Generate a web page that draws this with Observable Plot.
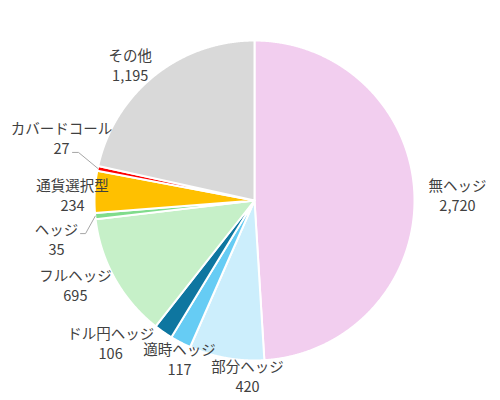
<!DOCTYPE html>
<html><head><meta charset="utf-8">
<script src="https://cdn.jsdelivr.net/npm/d3@7"></script>
<script src="https://cdn.jsdelivr.net/npm/@observablehq/plot@0.6"></script>
<style>body{margin:0;background:#fff;font-family:'Noto Sans CJK JP',sans-serif}</style>
</head><body><div id="chart"></div>
<script>
const categories = ["無ヘッジ","部分ヘッジ","適時ヘッジ","ドル円ヘッジ","フルヘッジ","ヘッジ","通貨選択型","カバードコール","その他"];
const values = [2720, 420, 117, 106, 695, 35, 234, 27, 1195];
const colors = ["#F2CEEF","#CCEEFC","#66CCF4","#0E76A0","#C6F0C8","#80DC8C","#FFC000","#FF0000","#D9D9D9"];
// label layout (radius as a fraction of the pie radius, angular nudge in degrees)
const labelRadius = [1.269, 1.095, 1.093, 1.264, 1.236, 1.26, 1.138, 1.269, 1.153];
const labelAngleOffset = [0, -7.8, -2.1, 10.6, 4.2, -5.3, -1.2, 6.5, -3.6];
// leader lines: pixel offsets from label centre for start and knee
const leaderLayout = {"カバードコール": [[11, 15], [17, 15]], "ヘッジ": [[24, -5], [29, -5]]};

const R = 160;
const arcs = d3.pie().sort(null)(values);
const piePts = [];
arcs.forEach((a, i) => {
  const c = categories[i];
  piePts.push({cat: c, color: colors[i], x: 0, y: 0});
  const n = Math.max(2, Math.ceil((a.endAngle - a.startAngle) / 0.004));
  for (let k = 0; k <= n; k++) {
    const t = a.startAngle + (a.endAngle - a.startAngle) * k / n;
    piePts.push({cat: c, color: colors[i], x: Math.sin(t), y: Math.cos(t)});
  }
  piePts.push({cat: c, color: colors[i], x: 0, y: 0});
});

const fmt = d3.format(",");
const labels = arcs.map((a, i) => {
  const mid = (a.startAngle + a.endAngle) / 2 + labelAngleOffset[i] * Math.PI / 180;
  return {
    cat: categories[i],
    text: categories[i] + "\n" + fmt(values[i]),
    x: labelRadius[i] * Math.sin(mid),
    y: labelRadius[i] * Math.cos(mid),
    mid: (a.startAngle + a.endAngle) / 2
  };
});

const leaderPts = [];
labels.forEach(l => {
  const lay = leaderLayout[l.cat];
  if (!lay) return;
  lay.forEach(([dx, dy]) => leaderPts.push({cat: l.cat, x: l.x + dx / R, y: l.y - dy / R}));
  leaderPts.push({cat: l.cat, x: Math.sin(l.mid), y: Math.cos(l.mid)});
});

const chart = Plot.plot({
  width: 500,
  height: 400,
  marginLeft: 94,
  marginRight: 86,
  marginTop: 40,
  marginBottom: 40,
  x: {domain: [-1, 1], axis: null},
  y: {domain: [-1, 1], axis: null},
  color: {type: "identity"},
  style: {fontFamily: "'Noto Sans CJK JP', sans-serif", background: "#fff"},
  marks: [
    Plot.line(piePts, {x: "x", y: "y", z: "cat", fill: "color", stroke: "white", strokeWidth: 2, strokeLinejoin: "round"}),
    Plot.line(leaderPts, {x: "x", y: "y", z: "cat", stroke: "#A6A6A6", strokeWidth: 1}),
    Plot.text(labels, {x: "x", y: "y", text: "text", fontSize: 14.5, fill: "#404040", lineHeight: 1.38})
  ]
});
document.getElementById("chart").appendChild(chart);
</script>
</body></html>
